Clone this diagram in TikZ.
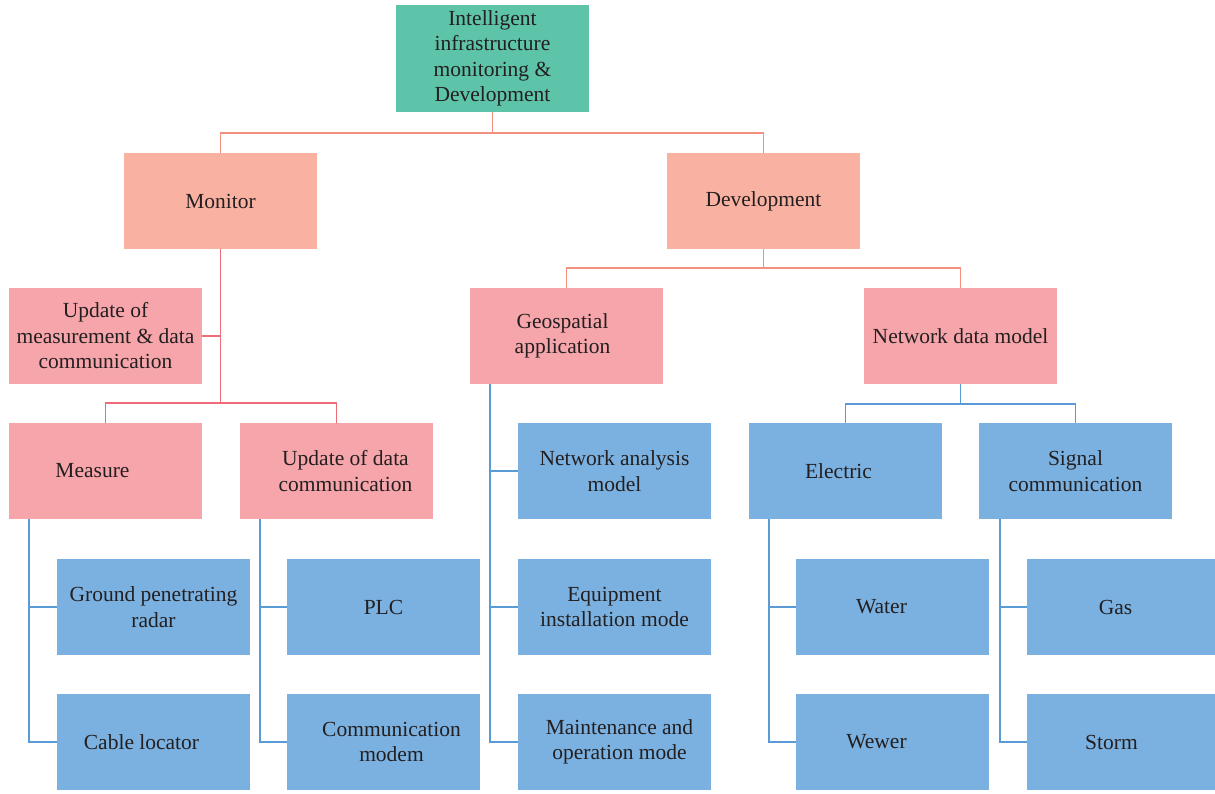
\documentclass[tikz,border=0pt]{standalone}
\usepackage{fontspec}
\setmainfont{Liberation Serif}
\definecolor{teal}{HTML}{5DC3A9}
\definecolor{salmon}{HTML}{F9B2A2}
\definecolor{pinkb}{HTML}{F6A5AA}
\definecolor{blueb}{HTML}{7BB1E0}
\definecolor{lsalmon}{HTML}{F4907F}
\definecolor{lpink}{HTML}{EE6B78}
\definecolor{lblue}{HTML}{5B9BD5}
\definecolor{txt}{HTML}{231F20}
\begin{document}
\begin{tikzpicture}[x=1pt,y=-1pt,
  box/.style={draw=none,minimum width=193pt,minimum height=96pt,inner sep=0pt,align=center,text=txt,font=\fontsize{21.5}{25.5}\selectfont},
  topbox/.style={box,fill=teal,minimum height=107pt},
  sbox/.style={box,fill=salmon},
  pbox/.style={box,fill=pinkb},
  bbox/.style={box,fill=blueb},
  ls/.style={draw=lsalmon,line width=1.2pt},
  lp/.style={draw=lpink,line width=1.2pt},
  lb/.style={draw=lblue,line width=1.2pt}]
\useasboundingbox (0,0) rectangle (1215,793);
% boxes
\node[topbox] (top) at (492.5,58.5) {Intelligent\\infrastructure\\monitoring \&\\Development};
\node[sbox] (mon) at (220.5,201) {Monitor};
\node[sbox] (dev) at (763.5,201) {Development};
\node[pbox] (upd) at (105.5,336) {Update of\\measurement \& data\\communication};
\node[pbox] (geo) at (566.5,336) {\hspace*{-8pt}Geospatial\\\hspace*{-8pt}application};
\node[pbox] (ndm) at (960.5,336) {Network data model};
\node[pbox] (mea) at (105.5,471) {\hspace*{-26pt}Measure};
\node[pbox] (udc) at (336.5,471) {\hspace*{18pt}Update of data\\\hspace*{18pt}communication};
\node[bbox] (ele) at (845.5,471) {\hspace*{-14pt}Electric};
\node[bbox] (sig) at (1075.5,471) {Signal\\communication};
\node[bbox] (nam) at (614.5,471) {Network analysis\\model};
\node[bbox] (gpr) at (153.5,607) {Ground penetrating\\radar};
\node[bbox] (plc) at (383.5,607) {PLC};
\node[bbox] (eim) at (614.5,607) {Equipment\\installation mode};
\node[bbox] (wat) at (892.5,607) {\hspace*{-22pt}Water};
\node[bbox] (gas) at (1123.5,607) {\hspace*{-16pt}Gas};
\node[bbox] (cab) at (153.5,742) {\hspace*{-24pt}Cable locator};
\node[bbox] (com) at (383.5,742) {\hspace*{16pt}Communication\\\hspace*{16pt}modem};
\node[bbox] (mom) at (614.5,742) {\hspace*{10pt}Maintenance and\\\hspace*{10pt}operation mode};
\node[bbox] (wew) at (892.5,742) {\hspace*{-32pt}Wewer};
\node[bbox] (sto) at (1123.5,742) {\hspace*{-24pt}Storm};
% top connectors
\draw[ls] (top.south) |- (220.5,133) -- (mon.north);
\draw[ls] (top.south) |- (763.5,133) -- (dev.north);
% monitor
\coordinate (mj) at (220.5,403);
\draw[lp] (mon.south) -- (mj);
\draw[lp] (upd.east) -- (upd.east -| mon.south);
\draw[lp] (mj) -| (mea.north);
\draw[lp] (mj) -| (udc.north);
% development
\coordinate (dj) at (763.5,268);
\draw[ls] (dev.south) -- (dj) -| (geo.north);
\draw[ls] (dj) -| (ndm.north);
% network data model
\coordinate (nj) at (960.5,404);
\draw[lb] (ndm.south) -- (nj) -| (ele.north);
\draw[lb] (nj) -| (sig.north);
% geospatial
\coordinate (gv) at (490,384);
\draw[lb] (gv) |- (mom.west);
\draw[lb] (nam.west) -- (nam.west -| gv);
\draw[lb] (eim.west) -- (eim.west -| gv);
% measure
\coordinate (mv) at (29,519);
\draw[lb] (mv) |- (cab.west);
\draw[lb] (gpr.west) -- (gpr.west -| mv);
% update data comm
\coordinate (uv) at (260,519);
\draw[lb] (uv) |- (com.west);
\draw[lb] (plc.west) -- (plc.west -| uv);
% electric
\coordinate (ev) at (769,519);
\draw[lb] (ev) |- (wew.west);
\draw[lb] (wat.west) -- (wat.west -| ev);
% signal
\coordinate (sv) at (1000,519);
\draw[lb] (sv) |- (sto.west);
\draw[lb] (gas.west) -- (gas.west -| sv);
\end{tikzpicture}
\end{document}
